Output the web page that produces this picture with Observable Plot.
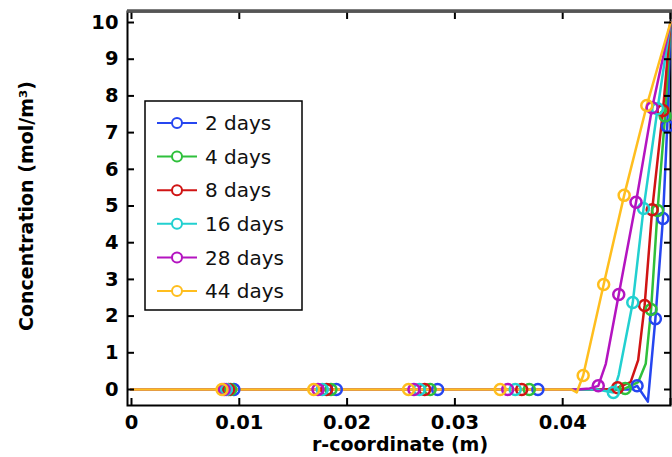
<!DOCTYPE html>
<html>
<head>
<meta charset="utf-8">
<script src="https://cdn.jsdelivr.net/npm/d3@7"></script>
<script src="https://cdn.jsdelivr.net/npm/@observablehq/plot@0.6"></script>
<style>
  html, body { margin: 0; padding: 0; background: #fff; }
  #chart { width: 672px; height: 457px; overflow: hidden; }
</style>
</head>
<body>
<div id="chart"></div>
<script>
// ---- data ----
const seriesNames  = ["2 days", "4 days", "8 days", "16 days", "28 days", "44 days"];
const seriesColors = ["#2646f0", "#2fc03c", "#d01414", "#22d0d0", "#b414c0", "#ffbe1e"];

// line vertices (r in m, concentration in mol/m^3)
const d2LineX  = [0, 0.0462, 0.0469, 0.0479, 0.0486, 0.0493, 0.0497, 0.0500];
const d2LineY  = [0, 0, 0.10, -0.33, 1.93, 4.66, 7.17, 10];
const d4LineX  = [0, 0.0450, 0.0458, 0.0470, 0.0477, 0.0482, 0.0488, 0.0495, 0.0500];
const d4LineY  = [0, 0, 0.03, 0.20, 0.70, 2.18, 4.88, 7.45, 10];
const d8LineX  = [0, 0.0440, 0.0451, 0.0463, 0.0470, 0.0476, 0.0483, 0.0493, 0.0500];
const d8LineY  = [0, 0, 0.05, 0.20, 0.80, 2.29, 4.90, 7.60, 10];
const d16LineX = [0, 0.0432, 0.0447, 0.0452, 0.0465, 0.0475, 0.0488, 0.0500];
const d16LineY = [0, 0, -0.08, 0.40, 2.37, 4.93, 7.65, 10];
const d28LineX = [0, 0.0413, 0.0425, 0.0433, 0.0440, 0.0452, 0.0468, 0.0483, 0.0500];
const d28LineY = [0, 0, 0.03, 0.10, 0.70, 2.59, 5.10, 7.68, 10];
const d44LineX = [0, 0.0408, 0.0413, 0.0419, 0.0438, 0.0457, 0.0478, 0.0500];
const d44LineY = [0, 0, -0.08, 0.38, 2.86, 5.29, 7.74, 10];

// marker positions
const d2MarkX  = [0.0095, 0.0190, 0.0284, 0.0377, 0.0469, 0.0486, 0.0493, 0.0497];
const d2MarkY  = [0, 0, 0, 0, 0.10, 1.93, 4.66, 7.17];
const d4MarkX  = [0.0092, 0.0185, 0.0277, 0.0369, 0.0458, 0.0482, 0.0488, 0.0495];
const d4MarkY  = [0, 0, 0, 0, 0.03, 2.18, 4.88, 7.45];
const d8MarkX  = [0.0090, 0.0181, 0.0272, 0.0362, 0.0451, 0.0476, 0.0483, 0.0493];
const d8MarkY  = [0, 0, 0, 0, 0.05, 2.29, 4.90, 7.60];
const d16MarkX = [0.0088, 0.0177, 0.0267, 0.0356, 0.0447, 0.0465, 0.0475, 0.0488];
const d16MarkY = [0, 0, 0, 0, -0.08, 2.37, 4.93, 7.65];
const d28MarkX = [0.0086, 0.0173, 0.0262, 0.0349, 0.0433, 0.0452, 0.0468, 0.0483];
const d28MarkY = [0, 0, 0, 0, 0.10, 2.59, 5.10, 7.68];
const d44MarkX = [0.0084, 0.0169, 0.0257, 0.0342, 0.0419, 0.0438, 0.0457, 0.0478];
const d44MarkY = [0, 0, 0, 0, 0.38, 2.86, 5.29, 7.74];

const xTickValues = [0, 0.01, 0.02, 0.03, 0.04, 0.05];
const xTickLabels = ["0", "0.01", "0.02", "0.03", "0.04"];
const yTickValues = [0, 1, 2, 3, 4, 5, 6, 7, 8, 9, 10];
const yTickLabels = ["0", "1", "2", "3", "4", "5", "6", "7", "8", "9", "10"];
const xTitle = "r-coordinate (m)";
const yTitle = "Concentration (mol/m³)";

// ---- build tables ----
const lineXs = [d2LineX, d4LineX, d8LineX, d16LineX, d28LineX, d44LineX];
const lineYs = [d2LineY, d4LineY, d8LineY, d16LineY, d28LineY, d44LineY];
const markXs = [d2MarkX, d4MarkX, d8MarkX, d16MarkX, d28MarkX, d44MarkX];
const markYs = [d2MarkY, d4MarkY, d8MarkY, d16MarkY, d28MarkY, d44MarkY];

const lineData = [], markData = [];
seriesNames.forEach((s, i) => {
  lineXs[i].forEach((x, j) => lineData.push({series: s, x, y: lineYs[i][j]}));
  markXs[i].forEach((x, j) => markData.push({series: s, x, y: markYs[i][j]}));
});

const colorScale = {domain: seriesNames, range: seriesColors};
const labelFont = {fontSize: 19.5, fontWeight: "bold"};

const chart = Plot.plot({
  width: 672,
  height: 457,
  marginLeft: 127,
  marginRight: 2,
  marginTop: 11,
  marginBottom: 52,
  style: {fontFamily: "DejaVu Sans", background: "#fff", color: "#000"},
  x: {domain: [-0.00037, 0.05]},
  y: {domain: [-0.436, 10.3]},
  color: colorScale,
  marks: [
    Plot.frame({stroke: "#000", strokeWidth: 2}),
    ...seriesNames.map(s => Plot.line(lineData.filter(d => d.series === s),
      {x: "x", y: "y", stroke: "series", strokeWidth: 2.5, strokeLinejoin: "round"})),
    ...seriesNames.map(s => Plot.dot(markData.filter(d => d.series === s),
      {x: "x", y: "y", stroke: "series", r: 5.5, strokeWidth: 2.5, fill: "none"})),
    // tick labels
    Plot.axisX({ticks: xTickValues.slice(0, xTickLabels.length), tickSize: 0, tickPadding: 10,
      tickFormat: (d, i) => xTickLabels[i], label: null, ...labelFont}),
    Plot.axisY({ticks: yTickValues, tickSize: 0, tickPadding: 9,
      tickFormat: (d, i) => yTickLabels[i], label: null, ...labelFont}),
    // inward ticks on all four sides
    Plot.axisX({anchor: "bottom", ticks: xTickValues, tickSize: -7, tickFormat: () => "", label: null, strokeWidth: 2}),
    Plot.axisX({anchor: "top", ticks: xTickValues, tickSize: -7, tickFormat: () => "", label: null, strokeWidth: 2}),
    Plot.axisY({anchor: "left", ticks: yTickValues, tickSize: -7, tickFormat: () => "", label: null, strokeWidth: 2}),
    Plot.axisY({anchor: "right", ticks: yTickValues, tickSize: -7, tickFormat: () => "", label: null, strokeWidth: 2})
  ]
});

document.getElementById("chart").appendChild(chart);

// ---- extra decorations: thick top border, titles, legend ----
const svg = d3.select(chart);
svg.append("line").attr("x1", 127).attr("x2", 672).attr("y1", 11).attr("y2", 11)
  .attr("stroke", "#555").attr("stroke-width", 3.5);

svg.append("text").text(xTitle)
  .attr("x", 400).attr("y", 451).attr("text-anchor", "middle")
  .attr("font-family", "DejaVu Sans").attr("font-weight", "bold").attr("font-size", 19);

svg.append("text").text(yTitle)
  .attr("transform", "translate(33,206) rotate(-90)").attr("text-anchor", "middle")
  .attr("font-family", "DejaVu Sans").attr("font-weight", "bold").attr("font-size", 19);

const lg = svg.append("g");
lg.append("rect").attr("x", 145).attr("y", 101).attr("width", 157).attr("height", 209)
  .attr("fill", "#fff").attr("stroke", "#000").attr("stroke-width", 1.5);
seriesNames.forEach((s, i) => {
  const cy = 123 + i * 33.6;
  lg.append("line").attr("x1", 157).attr("x2", 197).attr("y1", cy).attr("y2", cy)
    .attr("stroke", seriesColors[i]).attr("stroke-width", 2);
  lg.append("circle").attr("cx", 177).attr("cy", cy).attr("r", 5)
    .attr("fill", "#fff").attr("stroke", seriesColors[i]).attr("stroke-width", 2);
  lg.append("text").text(s).attr("x", 205).attr("y", cy).attr("dy", "0.36em")
    .attr("text-anchor", "start")
    .attr("font-family", "DejaVu Sans").attr("font-size", 20).attr("fill", "#111");
});
</script>
</body>
</html>
